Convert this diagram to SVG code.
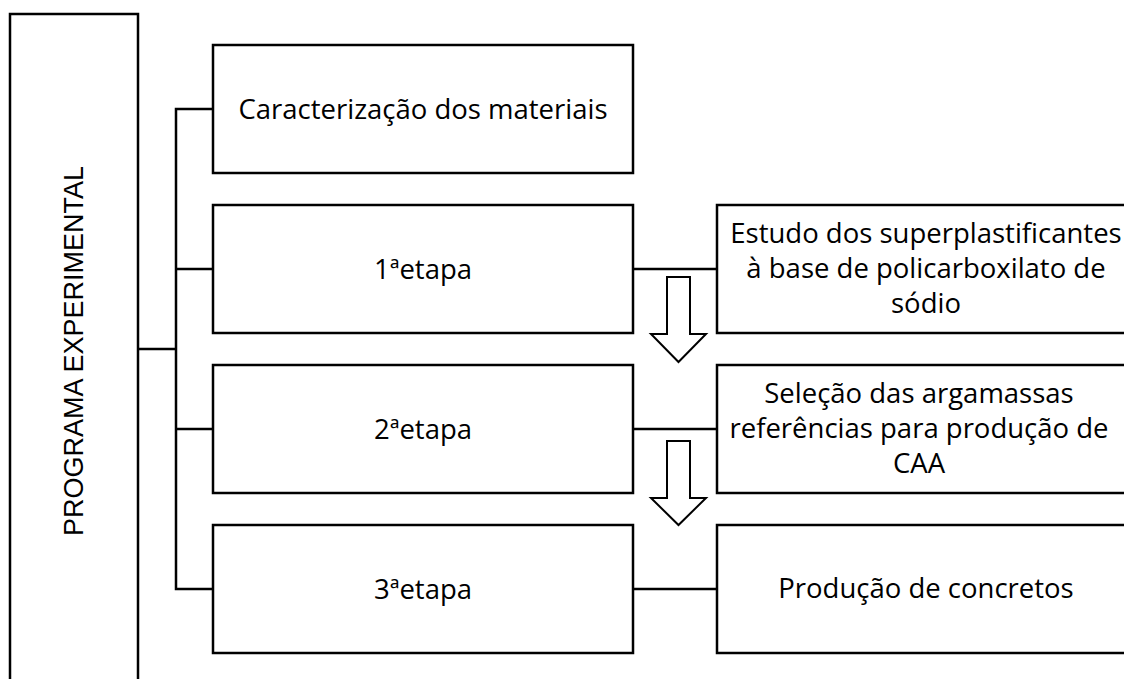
<svg xmlns="http://www.w3.org/2000/svg" width="1124" height="679" viewBox="0 0 1124 679">
<style>
.box{fill:#fff;stroke:#000;stroke-width:2.5}
.ln{fill:none;stroke:#000;stroke-width:2.5}
.arr{fill:#fff;stroke:#000;stroke-width:2}
text{font-family:"Open Sans","Liberation Sans",sans-serif;font-size:27.5px;fill:#000;text-anchor:middle}
text.side{font-family:"Liberation Sans",Arial,sans-serif;font-size:27px}
</style>
<rect width="1124" height="679" fill="#fff"/>
<g id="connectors">
<polyline class="ln" points="138,349 176,349"/>
<polyline class="ln" points="213,109 176,109 176,589 213,589"/>
<line class="ln" x1="176" y1="269" x2="213" y2="269"/>
<line class="ln" x1="176" y1="429" x2="213" y2="429"/>
<line class="ln" x1="633" y1="269" x2="717" y2="269"/>
<line class="ln" x1="633" y1="429" x2="717" y2="429"/>
<line class="ln" x1="633" y1="589" x2="717" y2="589"/>
<polygon class="arr" points="667,277 690,277 690,334 706,334 678.5,362 651,334 667,334"/>
<polygon class="arr" points="667,441 690,441 690,498 706,498 678.5,525 651,498 667,498"/>
</g>
<g id="programa">
<rect class="box" x="10" y="14" width="128" height="680"/>
<text class="side" transform="translate(83,351) rotate(-90)">PROGRAMA EXPERIMENTAL</text>
</g>
<g id="caracterizacao">
<rect class="box" x="213" y="45" width="420" height="128"/>
<text x="423" y="119">Caracterização dos materiais</text>
</g>
<g id="etapa1">
<rect class="box" x="213" y="205" width="420" height="128"/>
<text x="423" y="279">1ªetapa</text>
</g>
<g id="etapa2">
<rect class="box" x="213" y="365" width="420" height="128"/>
<text x="423" y="439">2ªetapa</text>
</g>
<g id="etapa3">
<rect class="box" x="213" y="525" width="420" height="128"/>
<text x="423" y="599">3ªetapa</text>
</g>
<g id="estudo">
<rect class="box" x="717" y="205" width="420" height="128"/>
<text x="926" y="243">Estudo dos superplastificantes</text>
<text x="926" y="278">à base de policarboxilato de</text>
<text x="926" y="313">sódio</text>
</g>
<g id="selecao">
<rect class="box" x="717" y="365" width="420" height="128"/>
<text x="919" y="403">Seleção das argamassas</text>
<text x="919" y="438">referências para produção de</text>
<text x="919" y="473">CAA</text>
</g>
<g id="producao">
<rect class="box" x="717" y="525" width="420" height="128"/>
<text x="926" y="598">Produção de concretos</text>
</g>
</svg>
